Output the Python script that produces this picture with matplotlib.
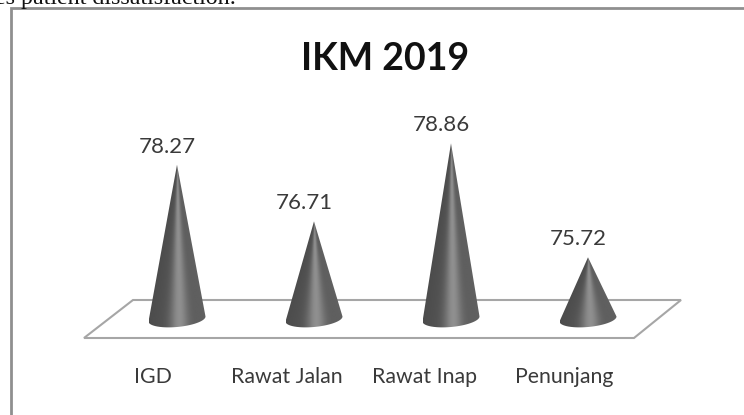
import matplotlib

matplotlib.use("Agg")
import matplotlib.pyplot as plt
import numpy as np
from matplotlib.patches import PathPatch, Polygon, Rectangle
from matplotlib.path import Path

categories = ["IGD", "Rawat Jalan", "Rawat Inap", "Penunjang"]
values = [78.27, 76.71, 78.86, 75.72]
label_shift = [-24, -27, -26, -24]  # px left of each cone

W, H = 744, 415
BASE = 74.02  # value where the cones stand
X_STEP = 137  # px between cones
Y_SCALE = 36.3  # px per unit

fig = plt.figure(figsize=(W / 100, H / 100), dpi=100)
ax = fig.add_axes([0, 0, 1, 1])
ax.set_xlim(-177 / X_STEP, (W - 177) / X_STEP)
ax.set_ylim(BASE - (H - 319) / Y_SCALE, BASE + 319 / Y_SCALE)
ax.axis("off")


def to_fig(points):
    return [(x / W, 1 - y / H) for x, y in points]


# frame runs off the right and bottom of the picture
fig.patches.append(Rectangle((11 / W, -0.1), 1.0, 1.1 - 8 / H, transform=fig.transFigure,
                             fill=False, edgecolor="#8f8f8f", linewidth=2))
ax.add_patch(Polygon(to_fig([(133, 300), (681, 300), (634, 338), (84, 338)]), closed=True,
                     transform=ax.transAxes, fill=False, edgecolor="#a6a6a6", linewidth=1.5, zorder=1))
fig.text(-5 / W, 1 + 1 / H, "es patient dissatisfaction.", family="Liberation Serif", fontsize=17.3,
         color="#111111", va="center", ha="left")

ax.text(385 / W, 1 - 59 / H, "IKM 2019", transform=ax.transAxes, family="Lato", fontsize=27,
        fontweight="bold", color="#111111", ha="center", va="center")

half_w = 28.5 / X_STEP
half_h = 8 / Y_SCALE
tilt = 2.5 / Y_SCALE

for i, (name, val) in enumerate(zip(categories, values)):
    # grey band follows the cone, so it narrows towards the tip
    rows = np.linspace(0, 1, 200)[:, np.newaxis]
    cols = np.linspace(-1, 1, 160)[np.newaxis, :]
    u = np.clip(cols / np.maximum(rows, 0.02), -1, 1)
    shade = 0.34 + 0.22 * np.exp(-((u - 0.06) / 0.32) ** 2) + 0.04 * u
    bottom = BASE - 2 * half_h

    a = np.linspace(np.pi, 2 * np.pi, 40)
    ex = i + half_w * np.cos(a)
    ey = BASE + half_h * np.sin(a) + tilt * np.cos(a)
    verts = [(i, val)] + list(zip(ex, ey)) + [(i, val)]
    clip = PathPatch(Path(verts), transform=ax.transData, facecolor="none", edgecolor="none")
    ax.add_patch(clip)
    img = ax.imshow(shade, cmap="gray", vmin=0, vmax=1, aspect="auto", zorder=2, origin="upper",
                    extent=(i - half_w, i + half_w, BASE, val), interpolation="bilinear")
    img.set_clip_path(clip)
    # fill below the side corners, where the ellipse hangs under the image
    low = ax.imshow(shade[-1:, :], cmap="gray", vmin=0, vmax=1, aspect="auto", zorder=2,
                    extent=(i - half_w, i + half_w, bottom, BASE), interpolation="bilinear")
    low.set_clip_path(clip)

    ax.text(i - 10 / X_STEP, val + 0.5, f"{val:.2f}", family="Lato", fontsize=16, color="#3a3a3a",
            ha="center", va="center")
    ax.text(i + label_shift[i] / X_STEP, BASE - 58.5 / Y_SCALE, name, family="Lato", fontsize=15.3,
            color="#3a3a3a", ha="center", va="center")

ax.set_xlim(-177 / X_STEP, (W - 177) / X_STEP)
ax.set_ylim(BASE - (H - 319) / Y_SCALE, BASE + 319 / Y_SCALE)

fig.savefig("out.png", dpi=100)
